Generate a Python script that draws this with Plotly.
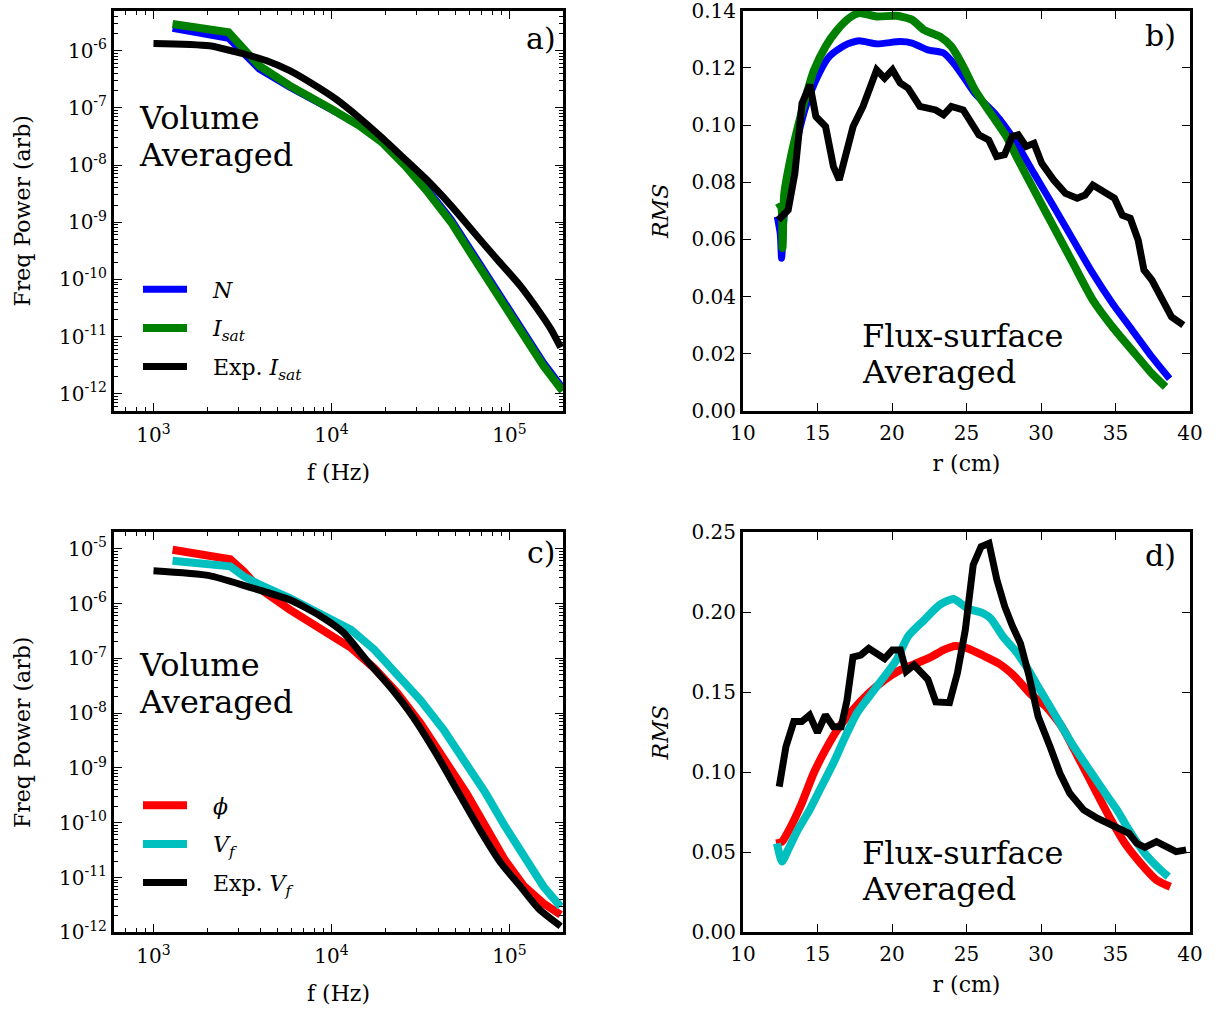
import numpy as np
import plotly.graph_objects as go

# ---------------- Panel a: volume-averaged spectra (density) ----------------
freq_a_sim = [1.28e3, 2.64e3, 3.92e3, 5.83e3, 1.00e4, 1.43e4, 1.92e4, 2.59e4,
              3.49e4, 4.70e4, 6.03e4, 7.73e4, 9.91e4, 1.27e5, 1.55e5, 1.99e5]
power_N = [2.46e-6, 1.64e-6, 4.79e-7, 2.29e-7, 9.33e-8, 5.01e-8, 2.63e-8, 1.05e-8,
           3.63e-9, 1.12e-9, 3.39e-10, 1.02e-10, 3.02e-11, 9.12e-12, 3.55e-12, 1.26e-12]
power_Isat = [2.93e-6, 2.09e-6, 5.46e-7, 2.44e-7, 9.55e-8, 4.90e-8, 2.51e-8, 9.77e-9,
              3.31e-9, 1.00e-9, 2.95e-10, 8.91e-11, 2.63e-11, 7.94e-12, 3.09e-12, 1.12e-12]
freq_a_exp = [1.00e3, 2.06e3, 3.21e3, 4.33e3, 5.83e3, 7.85e3, 1.06e4, 1.43e4, 1.92e4,
              2.59e4, 3.49e4, 4.70e4, 6.32e4, 8.53e4, 1.15e5, 1.40e5, 1.71e5, 1.94e5]
power_Isat_exp = [1.34e-6, 1.22e-6, 8.75e-7, 6.68e-7, 4.47e-7, 2.61e-7, 1.42e-7, 6.76e-8,
                  3.02e-8, 1.26e-8, 5.25e-9, 1.95e-9, 6.61e-10, 2.24e-10, 7.76e-11,
                  3.39e-11, 1.35e-11, 6.46e-12]

# ---------------- Panel b: flux-surface averaged RMS (density) ----------------
r_N = [12.30, 12.50, 12.59, 12.77, 13.17, 13.69, 14.22, 15.01, 15.80, 16.86, 17.78, 18.97,
       20.55, 21.35, 22.40, 23.46, 24.12, 24.78, 25.57, 26.89, 28.21, 29.53, 30.85, 32.16,
       33.48, 34.80, 36.12, 37.44, 38.63]
rms_N = [0.0680, 0.0620, 0.0534, 0.0690, 0.0830, 0.0960, 0.1065, 0.1170, 0.1240, 0.1280,
         0.1295, 0.1284, 0.1292, 0.1287, 0.1263, 0.1252, 0.1217, 0.1170, 0.1110, 0.1041,
         0.0948, 0.0831, 0.0715, 0.0598, 0.0481, 0.0376, 0.0283, 0.0189, 0.0113]
r_Isat = [12.30, 12.55, 12.65, 12.77, 13.17, 13.69, 14.22, 14.75, 15.54, 16.33, 17.12, 17.78,
          18.97, 20.29, 21.35, 22.14, 23.20, 23.98, 24.78, 25.57, 26.62, 27.68, 28.47, 29.53,
          30.85, 32.16, 33.48, 34.80, 36.12, 37.44, 38.36]
rms_Isat = [0.0709, 0.0715, 0.0570, 0.0760, 0.0878, 0.0995, 0.1100, 0.1190, 0.1275, 0.1333,
            0.1374, 0.1392, 0.1380, 0.1382, 0.1368, 0.1333, 0.1310, 0.1275, 0.1205, 0.1123,
            0.1041, 0.0960, 0.0878, 0.0773, 0.0644, 0.0516, 0.0388, 0.0294, 0.0212, 0.0131,
            0.0084]
r_Isat_exp = [12.37, 13.03, 13.48, 13.96, 14.49, 14.89, 15.54, 16.07, 16.46, 17.39, 18.05,
              18.97, 19.50, 20.03, 20.55, 21.08, 21.87, 22.93, 23.46, 23.98, 24.78, 25.83,
              26.49, 27.02, 27.55, 28.07, 28.47, 29.00, 29.53, 30.05, 30.85, 31.64, 32.43,
              32.96, 33.48, 34.01, 34.54, 34.93, 35.46, 35.99, 36.52, 36.91, 37.44, 37.97,
              38.76, 39.55]
rms_Isat_exp = [0.0668, 0.0703, 0.0831, 0.1076, 0.1141, 0.1030, 0.0995, 0.0855, 0.0808,
                0.0995, 0.1065, 0.1193, 0.1164, 0.1193, 0.1147, 0.1129, 0.1065, 0.1053,
                0.1036, 0.1065, 0.1053, 0.0966, 0.0948, 0.0890, 0.0896, 0.0960, 0.0966,
                0.0925, 0.0936, 0.0866, 0.0808, 0.0761, 0.0744, 0.0755, 0.0790, 0.0773,
                0.0750, 0.0744, 0.0685, 0.0674, 0.0598, 0.0493, 0.0458, 0.0411, 0.0329,
                0.0300]

# ---------------- Panel c: volume-averaged spectra (potential) ----------------
freq_c_sim = [1.28e3, 2.70e3, 3.21e3, 3.92e3, 5.83e3, 1.00e4, 1.29e4, 1.74e4, 2.34e4,
              3.16e4, 4.26e4, 5.73e4, 7.35e4, 9.42e4, 1.21e5, 1.55e5, 1.94e5]
power_phi = [9.59e-6, 6.46e-6, 3.89e-6, 1.91e-6, 7.76e-7, 2.51e-7, 1.55e-7, 6.61e-8,
             2.34e-8, 6.61e-9, 1.62e-9, 3.47e-10, 8.51e-11, 2.09e-11, 6.92e-12, 3.39e-12,
             2.09e-12]
power_Vf = [6.03e-6, 4.79e-6, 3.16e-6, 2.24e-6, 1.26e-6, 5.01e-7, 3.31e-7, 1.45e-7,
            5.37e-8, 1.74e-8, 5.01e-9, 1.23e-9, 3.47e-10, 8.71e-11, 2.34e-11, 6.92e-12,
            2.95e-12]
freq_c_exp = [1.00e3, 2.06e3, 3.38e3, 5.83e3, 8.69e3, 1.17e4, 1.57e4, 2.12e4, 2.86e4,
              3.86e4, 5.19e4, 7.00e4, 8.97e4, 1.15e5, 1.47e5, 1.94e5]
power_Vf_exp = [3.98e-6, 3.24e-6, 2.04e-6, 1.17e-6, 5.89e-7, 2.95e-7, 9.33e-8, 3.09e-8,
                8.71e-9, 1.86e-9, 3.47e-10, 6.46e-11, 1.82e-11, 6.92e-12, 2.63e-12, 1.29e-12]

# ---------------- Panel d: flux-surface averaged RMS (potential) ----------------
r_phi = [12.22, 12.62, 13.15, 13.94, 14.74, 15.53, 16.32, 17.38, 18.44, 19.50, 20.56, 21.61,
         22.67, 23.47, 24.26, 25.05, 26.11, 27.17, 28.23, 29.29, 30.34, 31.40, 32.46, 33.52,
         34.58, 35.63, 36.69, 37.75, 38.68]
rms_phi = [0.0556, 0.0567, 0.0650, 0.0806, 0.0994, 0.1140, 0.1265, 0.1390, 0.1494, 0.1577,
           0.1640, 0.1680, 0.1723, 0.1765, 0.1790, 0.1775, 0.1730, 0.1680, 0.1600, 0.1490,
           0.1410, 0.1285, 0.1100, 0.0910, 0.0723, 0.0556, 0.0431, 0.0327, 0.0285]
r_Vf = [12.28, 12.62, 13.02, 13.68, 14.47, 15.26, 16.06, 16.85, 17.65, 18.44, 19.50, 20.29,
        21.08, 22.14, 23.20, 24.13, 25.05, 26.11, 26.64, 27.43, 28.23, 29.02, 29.81, 30.61,
        31.40, 32.20, 33.25, 34.31, 35.10, 35.90, 36.96, 38.02, 38.54]
rms_Vf = [0.0556, 0.0442, 0.0515, 0.0640, 0.0765, 0.0910, 0.1056, 0.1220, 0.1370, 0.1470,
          0.1600, 0.1700, 0.1850, 0.1950, 0.2046, 0.2083, 0.2025, 0.1994, 0.1960, 0.1850,
          0.1765, 0.1660, 0.1535, 0.1410, 0.1285, 0.1160, 0.1015, 0.0869, 0.0765, 0.0640,
          0.0494, 0.0390, 0.0348]
r_Vf_exp = [12.43, 12.88, 13.41, 13.94, 14.47, 15.00, 15.53, 16.06, 16.59, 16.98, 17.38,
            17.91, 18.44, 19.50, 20.03, 20.56, 20.95, 21.48, 22.41, 22.94, 23.86, 24.39,
            24.92, 25.45, 25.98, 26.51, 27.04, 27.57, 28.10, 28.62, 29.15, 29.81, 30.61,
            31.27, 31.93, 32.86, 33.78, 34.84, 35.90, 36.43, 36.96, 37.75, 38.54, 39.07,
            39.74]
rms_Vf_exp = [0.0910, 0.1160, 0.1317, 0.1317, 0.1358, 0.1248, 0.1358, 0.1285, 0.1285,
              0.1450, 0.1720, 0.1733, 0.1775, 0.1710, 0.1765, 0.1765, 0.1630, 0.1670,
              0.1580, 0.1440, 0.1435, 0.1620, 0.1890, 0.2296, 0.2410, 0.2431, 0.2202,
              0.2035, 0.1910, 0.1806, 0.1620, 0.1348, 0.1160, 0.0994, 0.0869, 0.0765,
              0.0713, 0.0671, 0.0619, 0.0556, 0.0531, 0.0567, 0.0535, 0.0504, 0.0515]

# tick values
rms_ticks_b = [0.00, 0.02, 0.04, 0.06, 0.08, 0.10, 0.12, 0.14]
rms_ticks_d = [0.00, 0.05, 0.10, 0.15, 0.20, 0.25]
r_ticks = [10, 15, 20, 25, 30, 35, 40]

# ---------------- styling ----------------
W, H = 1220, 1011
FONT = "DejaVu Serif"
BLUE, GREEN, BLACK, RED, CYAN = "#0000ff", "#008000", "#000000", "#ff0000", "#00bfbf"
LW = 7
NB = "\u00a0\u00a0\u00a0"


def px_x(p):
    return p / W


def px_y(p):
    return 1 - p / H


fig = go.Figure()


def add(x, y, color, name, ax, legend=None, width=LW, smooth=False):
    line = dict(color=color, width=width)
    if smooth:
        line.update(shape="spline", smoothing=0.6)
    fig.add_trace(go.Scatter(
        x=x, y=y, mode="lines", name=name, line=line,
        xaxis="x" + ax, yaxis="y" + ax,
        showlegend=legend is not None,
        legend=legend if legend else "legend",
        legendgroup=name,
    ))


add(freq_a_sim, power_N, BLUE, NB + "<i>N</i>", "", "legend")
add(freq_a_sim, power_Isat, GREEN, NB + "<i>I</i><sub><i>sat</i></sub>", "", "legend", 8)
add(freq_a_exp, power_Isat_exp, BLACK, NB + "Exp. <i>I</i><sub><i>sat</i></sub>", "", "legend",
    LW, True)

add(r_N, rms_N, BLUE, "N_b", "2", None, LW, True)
add(r_Isat, rms_Isat, GREEN, "Isat_b", "2", None, 8, True)
add(r_Isat_exp, rms_Isat_exp, BLACK, "Isat_exp_b", "2")

add(freq_c_sim, power_phi, RED, NB + "<i>ϕ</i>", "3", "legend2", 8)
add(freq_c_sim, power_Vf, CYAN, NB + "<i>V</i><sub><i>f</i></sub>", "3", "legend2", 8)
add(freq_c_exp, power_Vf_exp, BLACK, NB + "Exp. <i>V</i><sub><i>f</i></sub>", "3", "legend2",
    LW, True)

add(r_phi, rms_phi, RED, "phi_d", "4", None, 8, True)
add(r_Vf, rms_Vf, CYAN, "Vf_d", "4", None, 8, True)
add(r_Vf_exp, rms_Vf_exp, BLACK, "Vf_exp_d", "4")

tickfont = dict(family=FONT, size=20, color="black")
titlefont = dict(family=FONT, size=22, color="black")

common = dict(showline=True, linewidth=3, linecolor="black", mirror="allticks",
              ticks="inside", ticklen=8, tickwidth=1, tickcolor="black",
              showgrid=False, zeroline=False, tickfont=tickfont, fixedrange=True,
              automargin=False, ticklabeloverflow="allow")

minor_log = dict(ticks="inside", ticklen=4, tickwidth=1, tickcolor="black", showgrid=False)

xa_dom = [px_x(114), px_x(563)]
xb_dom = [px_x(743), px_x(1190)]
ytop_dom = [px_y(411), px_y(10.7)]
ybot_dom = [px_y(932.3), px_y(532.3)]

freq_ticks = [1e3, 1e4, 1e5]
freq_text = ["10<sup>3</sup>", "10<sup>4</sup>", "10<sup>5</sup>"]
freq_minor = [m * 10.0 ** e for e in range(2, 6) for m in range(2, 10)]

pow_exps = list(range(-12, -4))
pow_ticks = [10.0 ** e for e in pow_exps]
pow_text = ["10<sup>%d</sup>" % e for e in pow_exps]
pow_minor = [m * 10.0 ** e for e in range(-13, -4) for m in range(2, 10)]

xlog = dict(common, type="log", range=[np.log10(600), np.log10(2e5)],
            tickmode="array", tickvals=freq_ticks, ticktext=freq_text,
            ticklabelstandoff=4,
            minor=dict(minor_log, tickmode="array", tickvals=freq_minor),
            title=dict(text="f (Hz)", font=titlefont, standoff=19))
xlin = dict(common, range=[10, 40], tickmode="array", tickvals=r_ticks,
            ticklabelstandoff=2,
            title=dict(text="r (cm)", font=titlefont, standoff=12))

ylin = dict(common, tickformat=".2f", tickmode="array")

fig.update_layout(
    template="none",
    width=W, height=H, margin=dict(l=0, r=0, t=0, b=0, autoexpand=False),
    paper_bgcolor="white", plot_bgcolor="white",
    font=dict(family=FONT, color="black"),
    xaxis=dict(xlog, domain=xa_dom, anchor="y"),
    yaxis=dict(common, domain=ytop_dom, anchor="x", type="log",
               range=[np.log10(5e-13), np.log10(5e-6)],
               tickmode="array", tickvals=pow_ticks, ticktext=pow_text,
               minor=dict(minor_log, tickmode="array", tickvals=pow_minor),
               title=dict(text="Freq Power (arb)", font=titlefont, standoff=23)),
    xaxis2=dict(xlin, domain=xb_dom, anchor="y2"),
    yaxis2=dict(ylin, domain=ytop_dom, anchor="x2", range=[0, 0.14],
                tickvals=rms_ticks_b,
                title=dict(text="<i>RMS</i>", font=titlefont, standoff=17)),
    xaxis3=dict(xlog, domain=xa_dom, anchor="y3"),
    yaxis3=dict(common, domain=ybot_dom, anchor="x3", type="log",
                range=[-12, np.log10(2e-5)],
                tickmode="array", tickvals=pow_ticks + [1e-5],
                ticktext=pow_text + ["10<sup>-5</sup>"],
                minor=dict(minor_log, tickmode="array", tickvals=pow_minor),
                title=dict(text="Freq Power (arb)", font=titlefont, standoff=23)),
    xaxis4=dict(xlin, domain=xb_dom, anchor="y4"),
    yaxis4=dict(ylin, domain=ybot_dom, anchor="x4", range=[0, 0.25],
                tickvals=rms_ticks_d,
                title=dict(text="<i>RMS</i>", font=titlefont, standoff=17)),
    legend=dict(x=px_x(138), y=px_y(328), xanchor="left", yanchor="middle",
                bgcolor="rgba(0,0,0,0)", font=dict(family=FONT, size=22),
                itemwidth=44, tracegroupgap=7),
    legend2=dict(x=px_x(138), y=px_y(844), xanchor="left", yanchor="middle",
                 bgcolor="rgba(0,0,0,0)", font=dict(family=FONT, size=22),
                 itemwidth=44, tracegroupgap=7),
)

ann_font = dict(family=FONT, size=32, color="black")
lab_font = dict(family=FONT, size=30, color="black")
texts = [
    ("Volume", 137, 118, "left", ann_font), ("Averaged", 137, 154.5, "left", ann_font),
    ("Volume", 137, 665, "left", ann_font), ("Averaged", 137, 702, "left", ann_font),
    ("Flux-surface", 860, 336, "left", ann_font), ("Averaged", 860, 372.5, "left", ann_font),
    ("Flux-surface", 860, 852.5, "left", ann_font), ("Averaged", 860, 889, "left", ann_font),
    ("a)", 558, 38, "right", lab_font), ("b)", 1178, 35, "right", lab_font),
    ("c)", 558, 552, "right", lab_font), ("d)", 1178, 555, "right", lab_font),
]
for t, x, y, xa, f in texts:
    fig.add_annotation(text=t, x=px_x(x), y=px_y(y), xref="paper", yref="paper",
                       xanchor=xa, yanchor="middle", showarrow=False, font=f)

fig.write_html("out.html")
